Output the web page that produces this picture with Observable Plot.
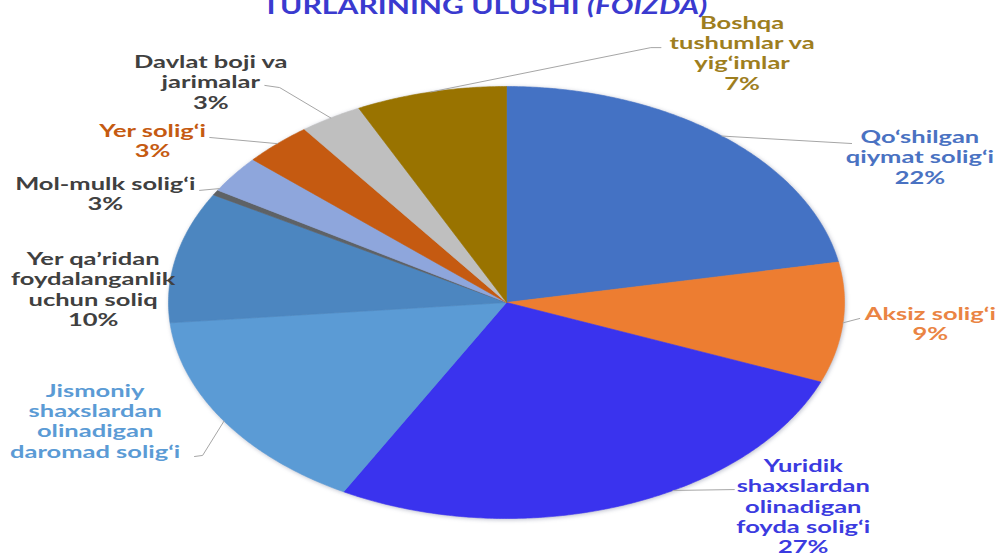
<!DOCTYPE html>
<html>
<head>
<meta charset="utf-8">
<script src="https://cdn.jsdelivr.net/npm/d3@7"></script>
<script src="https://cdn.jsdelivr.net/npm/@observablehq/plot@0.6"></script>
<style>
  html, body { margin: 0; padding: 0; background: #ffffff; overflow: hidden; }
  #chart { width: 997px; height: 555px; }
  g.slices { filter: drop-shadow(1px 1px 2px rgba(60, 70, 110, 0.35)); }
</style>
</head>
<body>
<div id="chart"></div>
<script>
// ---- data ----
const categories = [
  "Qo‘shilgan qiymat solig‘i",
  "Aksiz solig‘i",
  "Yuridik shaxslardan olinadigan foyda solig‘i",
  "Jismoniy shaxslardan olinadigan daromad solig‘i",
  "Yer qa’ridan foydalanganlik uchun soliq",
  "Boshqa (kichik)",
  "Mol-mulk solig‘i",
  "Yer solig‘i",
  "Davlat boji va jarimalar",
  "Boshqa tushumlar va yig‘imlar"
];
const shares = [22, 9, 27, 15.5, 9.8, 0.4, 2.8, 3.3, 3.0, 7.2];
const labelText = [
  "Qo‘shilgan\nqiymat solig‘i\n22%",
  "Aksiz solig‘i\n9%",
  "Yuridik\nshaxslardan\nolinadigan\nfoyda solig‘i\n27%",
  "Jismoniy\nshaxslardan\nolinadigan\ndaromad solig‘i",
  "Yer qa’ridan\nfoydalanganlik\nuchun soliq\n10%",
  "",
  "Mol-mulk solig‘i\n3%",
  "Yer solig‘i\n3%",
  "Davlat boji va\njarimalar\n3%",
  "Boshqa\ntushumlar va\nyig‘imlar\n7%"
];
const titleText = "TURLARINING ULUSHI ";
const titleItalic = "(FOIZDA)";

// ---- styles / layout ----
const sliceColors = ["#4472C4", "#ED7D31", "#3A33EE", "#5B9BD5", "#4C86C0", "#5E6266", "#8EA6DC", "#C55A11", "#BFBFBF", "#997300"];
const labelColors = ["#4A72C2", "#EA8443", "#3B3BE0", "#5B9BD5", "#404040", "#404040", "#404040", "#C55A11", "#404040", "#9E7E1E"];
const textStretch = 1.5; // the reference is stretched horizontally
// label block top-centre, in unit-ellipse coordinates
const labelPos = [
  [1.223, 0.806], [1.254, -0.013], [0.878, -0.717], [-1.217, -0.369], [-1.223, 0.242],
  null, [-1.187, 0.589], [-1.047, 0.834], [-0.875, 1.154], [0.697, 1.335]
];
// where, inside the slice (0..1), the leader leaves the edge
const leaderAt = [0.5, 0.5, 0.4, 0.5, 0.5, 0.5, 0.05, 0.5, 0.5, 0.5];
// leader polyline points after the slice edge (unit coordinates)
const leaderPts = [
  [[1.021, 0.736]], [[1.045, -0.074]], [[0.674, -0.866]], [[-0.899, -0.708], [-0.923, -0.713]], null,
  null, [[-0.908, 0.519]], [[-0.878, 0.764]], [[-0.671, 0.995], [-0.715, 1.005]], [[0.427, 1.180], [0.457, 1.180]]
];

// ---- geometry from data ----
const total = d3.sum(shares);
const slicePts = [];
const leaders = [];
const labels = [];
let acc = 0;
shares.forEach((v, i) => {
  const a0 = acc / total * 2 * Math.PI;
  const a1 = (acc + v) / total * 2 * Math.PI;
  acc += v;
  const n = Math.max(2, Math.ceil((a1 - a0) / (Math.PI / 360)));
  slicePts.push({id: i, x: 0, y: 0, c: sliceColors[i]});
  for (let k = 0; k <= n; k++) {
    const a = a0 + (a1 - a0) * k / n;
    slicePts.push({id: i, x: Math.sin(a), y: Math.cos(a), c: sliceColors[i]});
  }
  slicePts.push({id: i, x: 0, y: 0, c: sliceColors[i]});
  const m = a0 + (a1 - a0) * leaderAt[i];
  if (leaderPts[i]) {
    leaders.push({id: i, x: Math.sin(m), y: Math.cos(m)});
    leaderPts[i].forEach(p => leaders.push({id: i, x: p[0], y: p[1]}));
  }
  if (labelPos[i] && labelText[i]) {
    labels.push({x: labelPos[i][0], y: labelPos[i][1], t: labelText[i], c: labelColors[i]});
  }
});

const svg = Plot.plot({
  width: 997,
  height: 555,
  margin: 0,
  x: {domain: [-1, 1], range: [168, 844], axis: null},
  y: {domain: [-1, 1], range: [518, 86], axis: null},
  color: {type: "identity"},
  style: {background: "#ffffff", overflow: "visible"},
  marks: [
    Plot.line(slicePts, {x: "x", y: "y", z: "id", fill: "c", stroke: "c", strokeWidth: 0.6, curve: "linear", className: "slices"}),
    Plot.line(leaders, {x: "x", y: "y", z: "id", stroke: "#A6A6A6", strokeWidth: 1}),
    Plot.text(labels, {
      x: "x", y: "y", text: "t", fill: "c",
      fontSize: 17, fontWeight: "bold", fontFamily: "Lato, 'Open Sans', sans-serif",
      lineAnchor: "top", lineHeight: 1.2, textAnchor: "middle"
    })
  ]
});

// stretch label text horizontally about its anchor
d3.select(svg).selectAll("g[aria-label=text] text").each(function() {
  const tr = this.getAttribute("transform") || "";
  this.setAttribute("transform", tr + ` scale(${textStretch},1)`);
});

const t = d3.select(svg).append("text")
  .attr("transform", `translate(262,14) scale(1.31,1)`)
  .attr("text-anchor", "start")
  .attr("font-family", "Lato, 'Open Sans', sans-serif")
  .attr("font-size", 23).attr("font-weight", "bold")
  .attr("fill", "#3A3ACF");
t.append("tspan").text(titleText);
t.append("tspan").attr("font-style", "italic").text(titleItalic);

document.getElementById("chart").appendChild(svg);
</script>
</body>
</html>
